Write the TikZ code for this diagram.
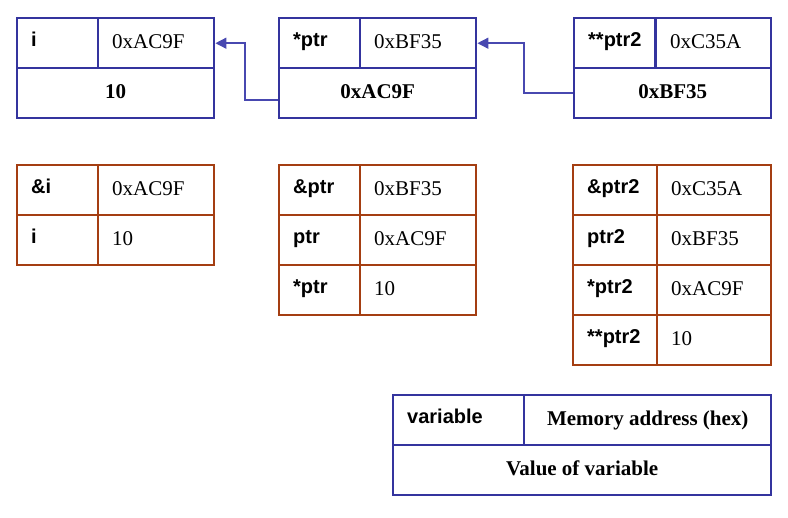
\documentclass[tikz,border=0pt]{standalone}
\usepackage{fontspec}
\setmainfont{Liberation Serif}
\setsansfont{Liberation Sans}
\usetikzlibrary{arrows.meta}
\definecolor{ptrblue}{RGB}{52,52,158}
\definecolor{linkblue}{RGB}{72,72,176}
\definecolor{memred}{RGB}{164,62,18}

\begin{document}
\begin{tikzpicture}[x=0.5pt,y=-0.5pt,
  every node/.style={inner ysep=0pt, inner xsep=7pt, anchor=north west,
    minimum height=25pt, line width=1.2pt},
  namecell/.style={draw=#1, text width=26.5pt, align=left,
    font=\sffamily\bfseries\fontsize{10}{12}\selectfont,
    text height=3pt, text depth=0pt},
  addrcell/.style={draw=#1, text width=44pt, align=left,
    font=\fontsize{10.5}{12}\selectfont, text height=5pt, text depth=0pt},
  valuecell/.style={draw=#1, minimum width=98.5pt,
    font=\bfseries\fontsize{10.5}{12}\selectfont, text height=5pt, text depth=0pt},
  widename/.style={namecell=memred, text width=28pt},
  narrowaddr/.style={addrcell=memred, text width=43pt},
  link/.style={draw=linkblue, line width=0.7pt,
    -{Triangle[length=5.5pt,width=5.5pt]}}
]

\useasboundingbox (0,0) rectangle (788,518); %% margins

%% variables in memory
\node[namecell=ptrblue] (iname) at (16,17) {i};
\node[addrcell=ptrblue] (iaddr) at (97,17) {0xAC9F};
\node[valuecell=ptrblue] (ival) at (16,67) {10};

\node[namecell=ptrblue] (ptrname) at (278,17) {*ptr};
\node[addrcell=ptrblue] (ptraddr) at (359,17) {0xBF35};
\node[valuecell=ptrblue] (ptrval) at (278,67) {0xAC9F};

\node[namecell=ptrblue] (ptrtwoname) at (573,17) {**ptr2};
\node[addrcell=ptrblue, text width=43.5pt] (ptrtwoaddr) at (655,17) {0xC35A};
\node[valuecell=ptrblue] (ptrtwoval) at (573,67) {0xBF35};

\draw[link] ([yshift=-3.5pt]ptrval.west) -- ++(-33,0) |- (iaddr.east);
\draw[link] (ptrtwoval.west) -- ++(-49,0) |- (ptraddr.east);

%% what each expression gives
\node[namecell=memred] (refi) at (16,164) {\&i};
\node[addrcell=memred] (refival) at (97,164) {0xAC9F};
\node[namecell=memred] (vari) at (16,214) {i};
\node[addrcell=memred] (varival) at (97,214) {10};

\node[namecell=memred] (refptr) at (278,164) {\&ptr};
\node[addrcell=memred] (refptrval) at (359,164) {0xBF35};
\node[namecell=memred] (varptr) at (278,214) {ptr};
\node[addrcell=memred] (varptrval) at (359,214) {0xAC9F};
\node[namecell=memred] (derefptr) at (278,264) {*ptr};
\node[addrcell=memred] (derefptrval) at (359,264) {10};

\node[widename] (refptrtwo) at (572,164) {\&ptr2};
\node[narrowaddr] (refptrtwoval) at (656,164) {0xC35A};
\node[widename] (varptrtwo) at (572,214) {ptr2};
\node[narrowaddr] (varptrtwoval) at (656,214) {0xBF35};
\node[widename] (derefptrtwo) at (572,264) {*ptr2};
\node[narrowaddr] (derefptrtwoval) at (656,264) {0xAC9F};
\node[widename] (dderefptrtwo) at (572,314) {**ptr2};
\node[narrowaddr] (dderefptrtwoval) at (656,314) {10};

%% legend
\node[namecell=ptrblue, text width=51.5pt] (keyname) at (392,394) {variable};
\node[valuecell=ptrblue, minimum width=123.5pt] (keyaddr) at (523,394)
  {Memory address (hex)};
\node[valuecell=ptrblue, minimum width=189pt] (keyval) at (392,444)
  {Value of variable};

\end{tikzpicture}
\end{document}
